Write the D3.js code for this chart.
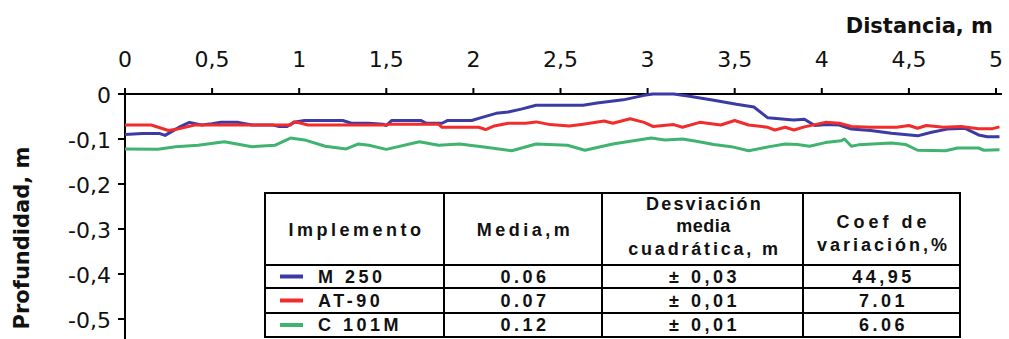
<!DOCTYPE html>
<html>
<head>
<meta charset="utf-8">
<script src="https://cdn.jsdelivr.net/npm/d3@7"></script>
<style>
  html, body { margin: 0; padding: 0; background: #fff; }
  svg { display: block; }
</style>
</head>
<body>
<svg id="chart" width="1009" height="339"></svg>
<script>
// Working depth along the furrow for three tillage implements
const xTicks = [0, 0.5, 1, 1.5, 2, 2.5, 3, 3.5, 4, 4.5, 5];
const xTickLabels = ["0", "0,5", "1", "1,5", "2", "2,5", "3", "3,5", "4", "4,5", "5"];
const yTicks = [0, -0.1, -0.2, -0.3, -0.4, -0.5];
const yTickLabels = ["0", "-0,1", "-0,2", "-0,3", "-0,4", "-0,5"];

const m250Dist = [0, 0.1, 0.2, 0.23, 0.32, 0.37, 0.44, 0.5, 0.55, 0.65, 0.73, 0.85, 0.88, 0.93, 0.97, 1.03, 1.25, 1.3, 1.4, 1.48, 1.5, 1.53, 1.7, 1.73, 1.82, 1.85, 1.99, 2.05, 2.13, 2.2, 2.28, 2.36, 2.63, 2.71, 2.86, 2.98, 3.03, 3.15, 3.24, 3.38, 3.51, 3.61, 3.69, 3.82, 3.84, 3.9, 3.96, 4.03, 4.1, 4.17, 4.28, 4.4, 4.55, 4.63, 4.72, 4.82, 4.9, 4.95, 5.02];
const m250Depth = [-0.090, -0.088, -0.088, -0.092, -0.072, -0.063, -0.069, -0.066, -0.063, -0.063, -0.069, -0.069, -0.072, -0.072, -0.063, -0.059, -0.059, -0.065, -0.065, -0.067, -0.070, -0.059, -0.059, -0.065, -0.065, -0.059, -0.059, -0.052, -0.043, -0.040, -0.033, -0.025, -0.025, -0.020, -0.013, -0.003, 0, 0, -0.005, -0.014, -0.023, -0.029, -0.053, -0.057, -0.058, -0.056, -0.070, -0.068, -0.069, -0.078, -0.081, -0.087, -0.093, -0.085, -0.078, -0.076, -0.091, -0.095, -0.095];

const at90Dist = [0, 0.15, 0.2, 0.25, 0.3, 0.4, 0.95, 0.97, 1.0, 1.05, 1.5, 1.52, 1.8, 1.82, 2.03, 2.07, 2.12, 2.2, 2.3, 2.36, 2.44, 2.55, 2.63, 2.75, 2.8, 2.9, 2.98, 3.03, 3.15, 3.2, 3.3, 3.42, 3.5, 3.58, 3.69, 3.73, 3.79, 3.84, 3.9, 4.02, 4.1, 4.17, 4.28, 4.43, 4.5, 4.55, 4.6, 4.7, 4.8, 4.9, 4.98, 5.02];
const at90Depth = [-0.069, -0.069, -0.075, -0.081, -0.078, -0.069, -0.069, -0.062, -0.064, -0.069, -0.069, -0.067, -0.067, -0.074, -0.074, -0.079, -0.071, -0.065, -0.065, -0.062, -0.068, -0.071, -0.067, -0.060, -0.065, -0.055, -0.063, -0.072, -0.068, -0.074, -0.063, -0.069, -0.059, -0.069, -0.074, -0.080, -0.074, -0.080, -0.073, -0.063, -0.065, -0.072, -0.074, -0.074, -0.070, -0.076, -0.070, -0.074, -0.072, -0.077, -0.077, -0.073];

const c101Dist = [0, 0.19, 0.29, 0.42, 0.57, 0.73, 0.86, 0.95, 1.04, 1.15, 1.27, 1.34, 1.4, 1.5, 1.69, 1.8, 1.92, 2.05, 2.22, 2.36, 2.54, 2.64, 2.8, 3.02, 3.1, 3.2, 3.28, 3.38, 3.48, 3.58, 3.7, 3.79, 3.86, 3.93, 4.02, 4.11, 4.13, 4.17, 4.21, 4.4, 4.48, 4.55, 4.71, 4.78, 4.9, 4.93, 5.02];
const c101Depth = [-0.122, -0.123, -0.117, -0.114, -0.106, -0.117, -0.114, -0.098, -0.103, -0.116, -0.122, -0.111, -0.114, -0.123, -0.106, -0.114, -0.111, -0.117, -0.126, -0.111, -0.114, -0.125, -0.111, -0.098, -0.102, -0.100, -0.105, -0.112, -0.117, -0.126, -0.117, -0.111, -0.112, -0.116, -0.108, -0.104, -0.100, -0.116, -0.113, -0.109, -0.112, -0.125, -0.126, -0.120, -0.120, -0.125, -0.124];

// Summary table
const implementNames = ["M 250", "AT-90", "C 101M"];
const meanValues = ["0.06", "0.07", "0.12"];
const sdValues = ["\u00B1 0,03", "\u00B1 0,01", "\u00B1 0,01"];
const cvValues = ["44,95", "7.01", "6.06"];
const seriesColors = ["#3b3ba6", "#f22b2b", "#3fb36f"];

const svg = d3.select("#chart");

const x = d3.scaleLinear().domain([0, 5]).range([125, 996]);
const y = d3.scaleLinear().domain([0, -0.5]).range([94, 319]);

// Top x axis
const xAxis = svg.append("g").attr("transform", `translate(0,${y(0)})`);
xAxis.append("line")
  .attr("x1", x(0)).attr("x2", 1002)
  .attr("y1", 0).attr("y2", 0)
  .attr("stroke", "#000").attr("stroke-width", 2);
xAxis.selectAll("line.tick").data(xTicks).join("line")
  .attr("class", "tick")
  .attr("x1", d => x(d)).attr("x2", d => x(d))
  .attr("y1", 0).attr("y2", -6)
  .attr("stroke", "#000").attr("stroke-width", 2);
svg.append("g").selectAll("text").data(xTicks).join("text")
  .attr("x", d => x(d)).attr("y", 67)
  .attr("text-anchor", "middle")
  .attr("font-family", "DejaVu Sans, sans-serif")
  .attr("font-size", 22)
  .attr("fill", "#111")
  .text((d, i) => xTickLabels[i]);

svg.append("text")
  .attr("x", 993).attr("y", 33)
  .attr("text-anchor", "end")
  .attr("font-family", "DejaVu Sans, sans-serif")
  .attr("font-weight", "bold")
  .attr("font-size", 21)
  .attr("fill", "#111")
  .text("Distancia, m");

// Left y axis
const yAxis = svg.append("g");
yAxis.append("line")
  .attr("x1", x(0)).attr("x2", x(0))
  .attr("y1", 88).attr("y2", 339)
  .attr("stroke", "#000").attr("stroke-width", 2);
yAxis.selectAll("line.tick").data(yTicks).join("line")
  .attr("class", "tick")
  .attr("x1", x(0) - 7).attr("x2", x(0))
  .attr("y1", d => y(d)).attr("y2", d => y(d))
  .attr("stroke", "#000").attr("stroke-width", 2);
yAxis.selectAll("text").data(yTicks).join("text")
  .attr("x", 111).attr("y", d => y(d) + 9)
  .attr("text-anchor", "end")
  .attr("font-family", "DejaVu Sans, sans-serif")
  .attr("font-size", 22)
  .attr("fill", "#111")
  .text((d, i) => yTickLabels[i]);

svg.append("text")
  .attr("transform", "translate(29,238) rotate(-90)")
  .attr("text-anchor", "middle")
  .attr("font-family", "DejaVu Sans, sans-serif")
  .attr("font-weight", "bold")
  .attr("font-size", 21)
  .attr("fill", "#111")
  .text("Profundidad, m");

// Depth profiles
const line = d3.line().x(d => x(d[0])).y(d => y(d[1]));
const series = [
  d3.zip(c101Dist, c101Depth),
  d3.zip(m250Dist, m250Depth),
  d3.zip(at90Dist, at90Depth)
];
const order = [2, 0, 1];
svg.append("g").selectAll("path").data(series).join("path")
  .attr("d", line)
  .attr("fill", "none")
  .attr("stroke", (d, i) => seriesColors[order[i]])
  .attr("stroke-width", 3)
  .attr("stroke-linejoin", "round");

// Summary table
const colEdges = [265, 444, 602, 803, 960];
const rowEdges = [193, 265, 288, 313, 337];
const table = svg.append("g");
table.append("rect")
  .attr("x", colEdges[0]).attr("y", rowEdges[0])
  .attr("width", colEdges[4] - colEdges[0]).attr("height", rowEdges[4] - rowEdges[0])
  .attr("fill", "#fff").attr("stroke", "#000").attr("stroke-width", 2);
table.selectAll("line.col").data(colEdges.slice(1, 4)).join("line")
  .attr("class", "col")
  .attr("x1", d => d).attr("x2", d => d)
  .attr("y1", rowEdges[0]).attr("y2", rowEdges[4])
  .attr("stroke", "#000").attr("stroke-width", 2);
table.selectAll("line.row").data(rowEdges.slice(1, 4)).join("line")
  .attr("class", "row")
  .attr("x1", colEdges[0]).attr("x2", colEdges[4])
  .attr("y1", d => d).attr("y2", d => d)
  .attr("stroke", "#000").attr("stroke-width", 2);

function cellText(tx, ty, str, anchor, spacing) {
  table.append("text")
    .attr("x", tx).attr("y", ty)
    .attr("text-anchor", anchor || "middle")
    .attr("font-family", "Liberation Sans, Arial, sans-serif")
    .attr("font-weight", "bold")
    .attr("font-size", 18)
    .attr("letter-spacing", spacing)
    .attr("fill", "#111")
    .text(str);
}
const mid = i => (colEdges[i] + colEdges[i + 1]) / 2;

cellText(mid(0) + 2, 236, "Implemento", "middle", 3.5);
cellText(mid(1) + 2, 236, "Media,m", "middle", 3.5);
cellText(mid(2) + 2, 210, "Desviación", "middle", 2.2);
cellText(mid(2) + 1, 232, "media", "middle", 0.5);
cellText(mid(2) + 2, 255, "cuadrática, m", "middle", 2.8);
cellText(mid(3) + 2, 228, "Coef de", "middle", 4);
cellText(mid(3) + 2, 251, "variación,%", "middle", 3);

const baselines = [283, 307, 331];
implementNames.forEach((name, i) => {
  const cy = (rowEdges[i + 1] + rowEdges[i + 2]) / 2;
  table.append("line")
    .attr("x1", 280).attr("x2", 303)
    .attr("y1", cy).attr("y2", cy)
    .attr("stroke", seriesColors[i]).attr("stroke-width", 4);
  cellText(318, baselines[i], name, "start", 3.5);
  cellText(mid(1) + 2, baselines[i], meanValues[i], "middle", 3.5);
  cellText(mid(2) + 2, baselines[i], sdValues[i], "middle", 3.5);
  cellText(mid(3) + 2, baselines[i], cvValues[i], "middle", 3.5);
});
</script>
</body>
</html>
